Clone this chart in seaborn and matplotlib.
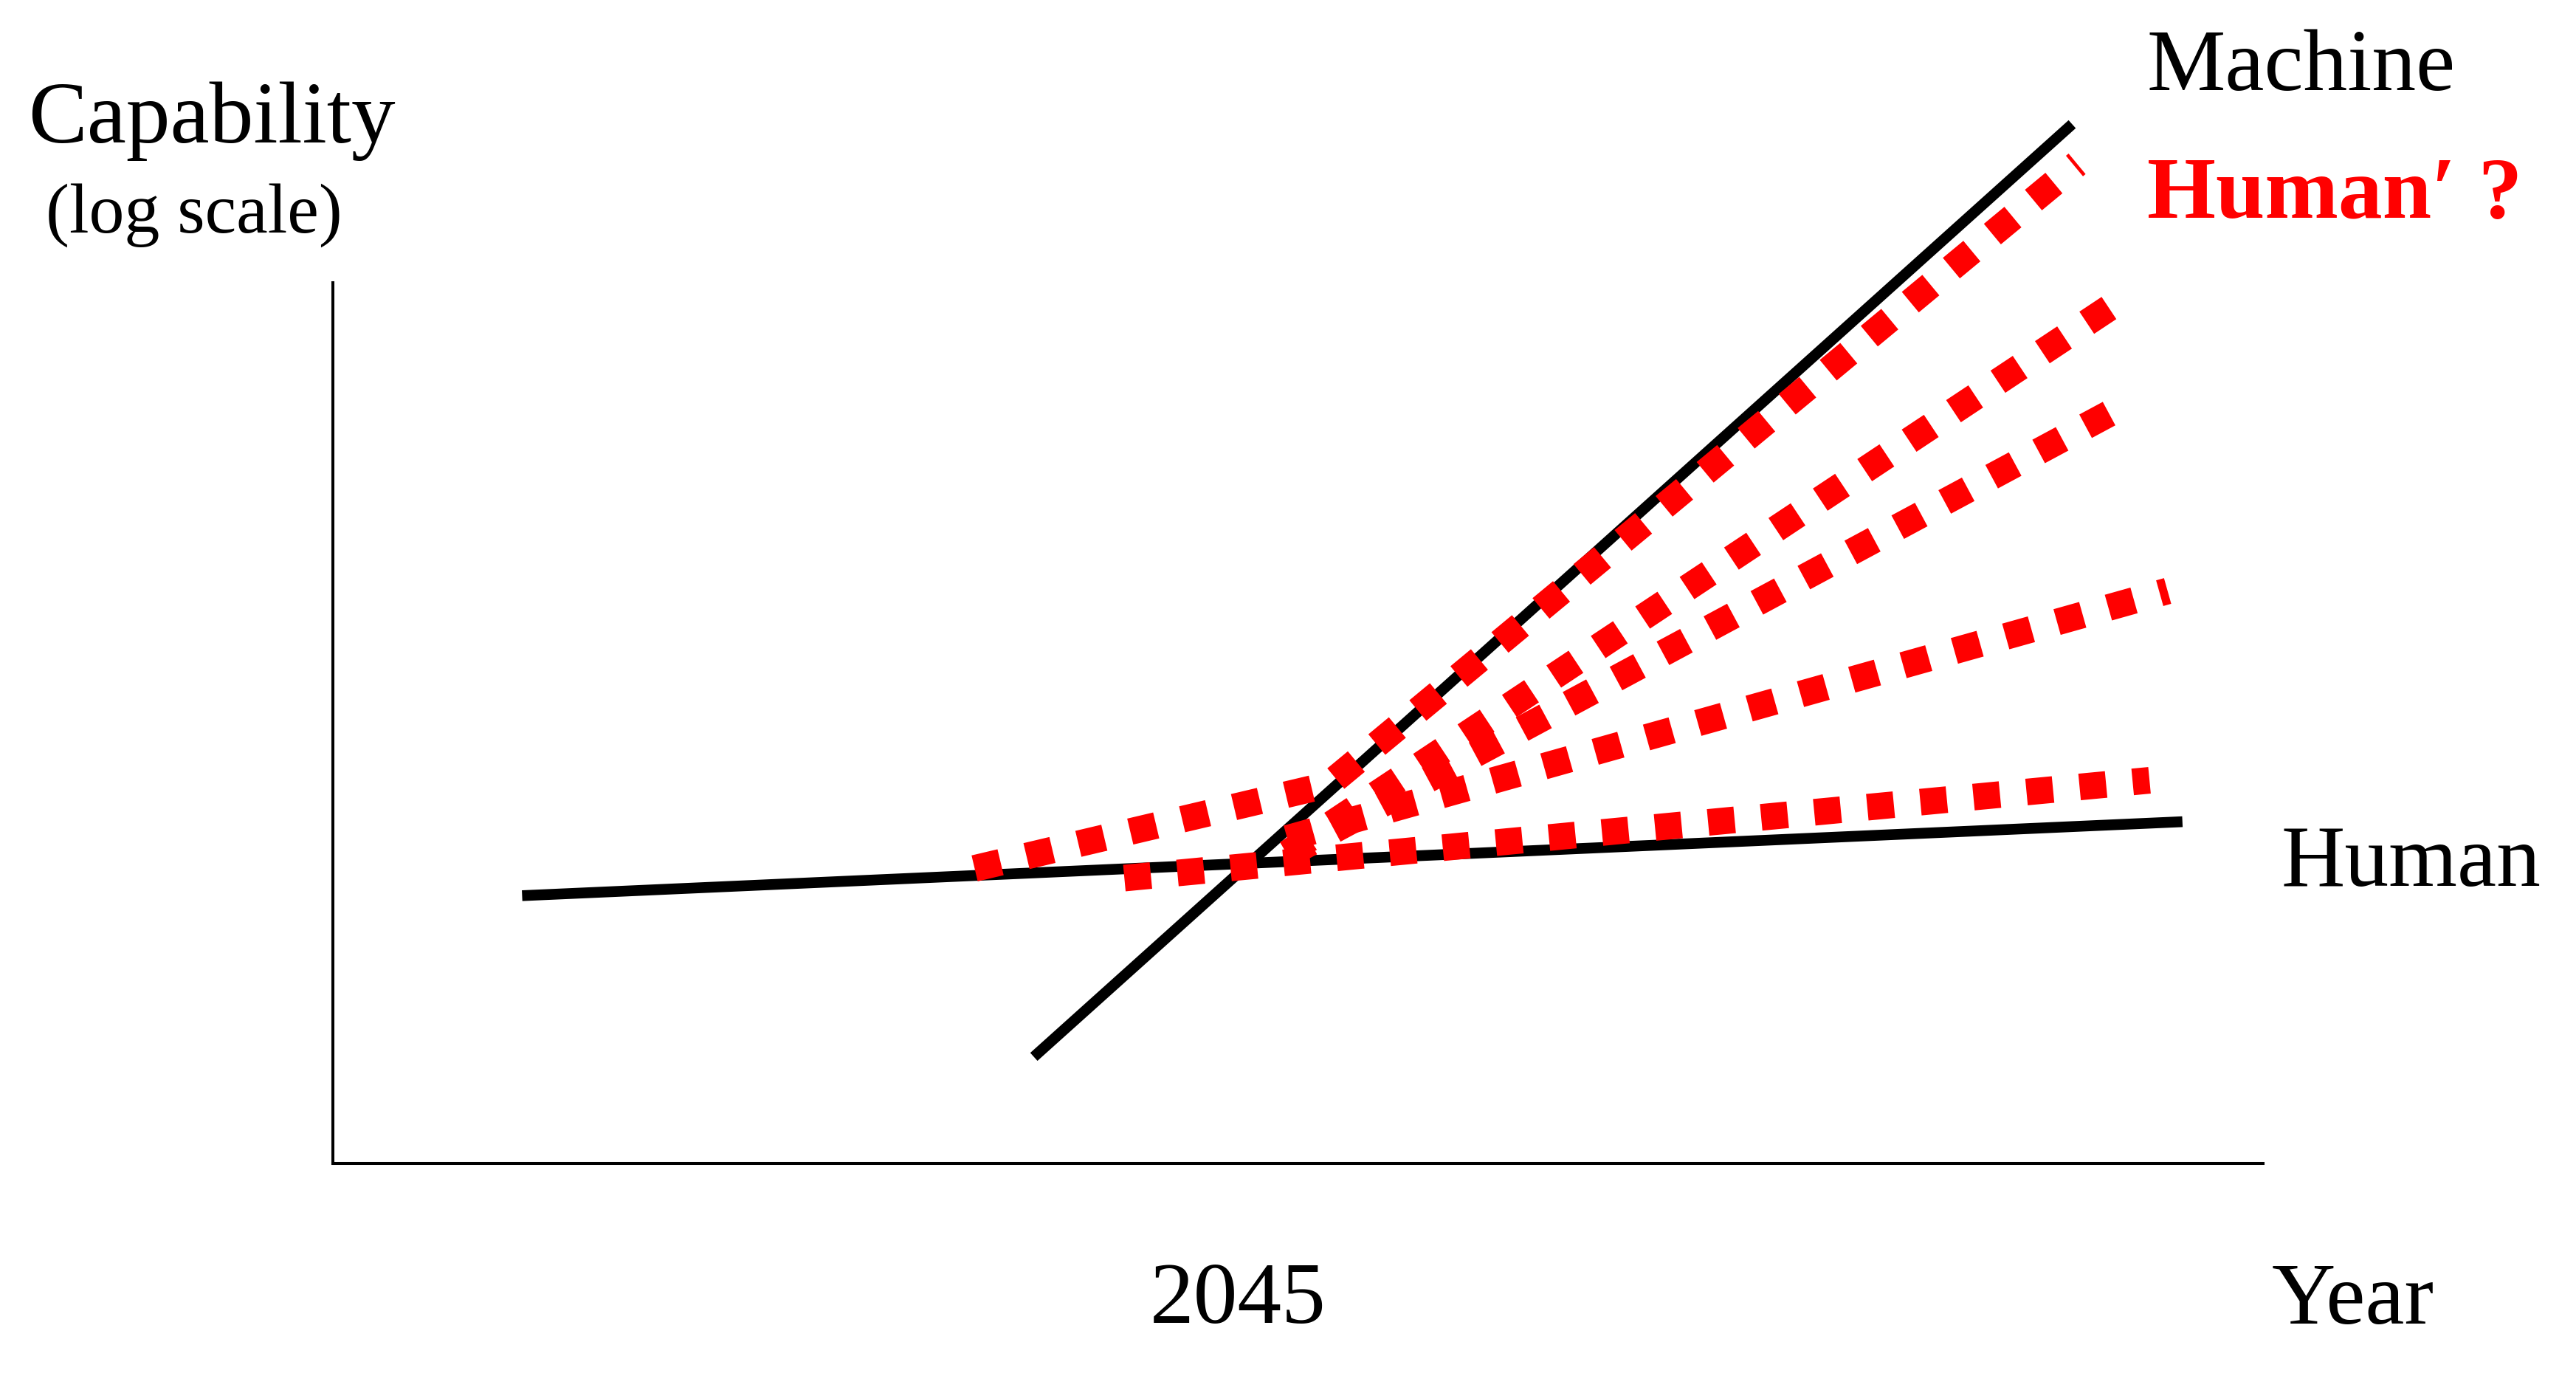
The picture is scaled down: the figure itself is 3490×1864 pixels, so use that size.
import matplotlib
matplotlib.use("Agg")
import matplotlib.pyplot as plt
import seaborn as sns
import pandas as pd

# ---------------- data (year, log-capability) ----------------
human_year = [2001.5, 2102.4]
human_cap = [3.04, 3.88]

machine_year = [2032.6, 2095.7]
machine_cap = [1.21, 11.80]

# red dotted "Human' ?" scenarios
r1_year = [2029.0, 2050.5, 2096.0]
r1_cap = [3.35, 4.30, 11.35]
r2_year = [2048.0, 2098.8]
r2_cap = [3.52, 9.82]
r3_year = [2048.0, 2099.2]
r3_cap = [3.50, 8.64]
r4_year = [2048.0, 2101.5]
r4_cap = [3.69, 6.50]
r5_year = [2038.1, 2100.4]
r5_cap = [3.24, 4.35]

tick_years = [2045]
tick_labels = ["2045"]

# ---------------- style ----------------
sns.set_theme(style="white")
plt.rcParams["font.family"] = ["Liberation Serif", "DejaVu Serif"]

W, H = 3491, 1864
fig = plt.figure(figsize=(W / 100, H / 100), dpi=100)
fig.patch.set_facecolor("white")


def fx(px):
    return px / W


def fy(py):
    return 1 - py / H


ax = fig.add_axes([fx(451), fy(1576), (3066 - 451) / W, (1576 - 100) / H])
ax.set_facecolor("white")
ax.set_xlim(1990, 2107.3)
ax.set_ylim(0, (1576 - 100) / 119.3)

black_lw = 10.5
red_lw = 26

sns.lineplot(x=human_year, y=human_cap, ax=ax, color="black", linewidth=black_lw,
             sort=False, solid_capstyle="butt", zorder=2)
sns.lineplot(x=machine_year, y=machine_cap, ax=ax, color="black", linewidth=black_lw,
             sort=False, solid_capstyle="butt", zorder=2)

for yr, cp in [(r1_year, r1_cap), (r2_year, r2_cap), (r3_year, r3_cap),
               (r4_year, r4_cap), (r5_year, r5_cap)]:
    sns.lineplot(x=yr, y=cp, ax=ax, color="#FF0000", linewidth=red_lw,
                 linestyle=(0, (1, 1)), sort=False, dash_capstyle="butt", zorder=3)

# spines
for s in ["top", "right"]:
    ax.spines[s].set_visible(False)
for s in ["left", "bottom"]:
    ax.spines[s].set_visible(True)
    ax.spines[s].set_color("black")
    ax.spines[s].set_linewidth(2.9)
ax.spines["left"].set_bounds(0, 10)

ax.set_yticks([])
ax.set_xticks(tick_years)
ax.set_xticklabels(tick_labels, fontsize=86, color="black")
ax.tick_params(axis="x", length=0, pad=96)
ax.set_xlabel("")
ax.set_ylabel("")

fs = 86
fig.text(fx(287), fy(193), "Capability", fontsize=fs, ha="center", va="baseline", color="black")
fig.text(fx(263), fy(315), "(log scale)", fontsize=69, ha="center", va="baseline", color="black")
fig.text(fx(2909), fy(122), "Machine", fontsize=fs, ha="left", va="baseline", color="black")
fig.text(fx(2909), fy(295), "Human\u2032 ?", fontsize=fs, fontweight="bold", ha="left",
         va="baseline", color="#FF0000")
fig.text(fx(3091), fy(1200), "Human", fontsize=fs, ha="left", va="baseline", color="black")
fig.text(fx(3078), fy(1793), "Year", fontsize=fs, ha="left", va="baseline", color="black")

fig.savefig("out.png", dpi=100, facecolor="white")
